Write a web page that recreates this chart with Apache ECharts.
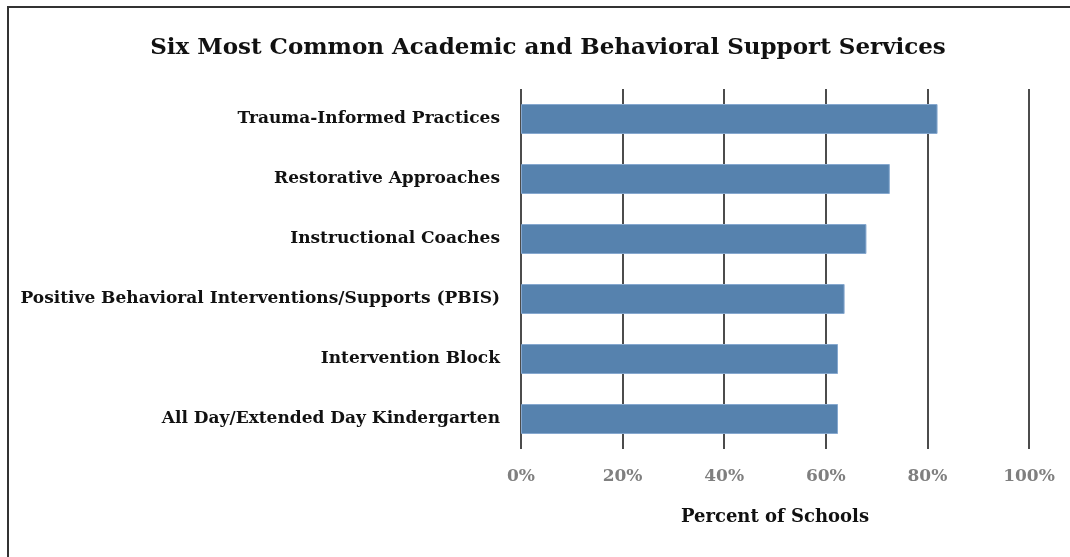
<!DOCTYPE html>
<html>
<head>
    <meta charset="utf-8">
    <title>Six Most Common Academic and Behavioral Support Services</title>
    <script src="https://cdn.jsdelivr.net/npm/echarts@6/dist/echarts.min.js"></script>
    <style>
        html, body { margin: 0; padding: 0; background: #fff; }
        #chart1 { width: 1070px; height: 557px; }
    </style>
</head>
<body>
<div id="chart1"></div>
<script type="text/javascript">
    // 数据
    var services = [
        'Trauma-Informed Practices',
        'Restorative Approaches',
        'Instructional Coaches',
        'Positive Behavioral Interventions/Supports (PBIS)',
        'Intervention Block',
        'All Day/Extended Day Kindergarten'
    ];
    var percentSchools = [82, 72.6, 68, 63.7, 62.4, 62.4];
    var tickValues = [0, 20, 40, 60, 80, 100];

    var serif = "'DejaVu Serif', serif";

    var myChart = echarts.init(document.getElementById('chart1'));
    myChart.setOption({
        animation: false,
        textStyle: { fontFamily: serif },
        title: {
            text: 'Six Most Common Academic and Behavioral Support Services',
            left: 543,
            top: 32,
            textAlign: 'center',
            textStyle: { fontFamily: serif, fontSize: 23, fontWeight: 'bold', color: '#111' }
        },
        graphic: [{
            type: 'rect',
            shape: { x: 8, y: 7, width: 1100, height: 600 },
            style: { fill: 'none', stroke: '#333', lineWidth: 2 },
            silent: true
        }],
        grid: { left: 521, right: 41, top: 89, bottom: 108 },
        xAxis: {
            type: 'value',
            min: tickValues[0],
            max: tickValues[tickValues.length - 1],
            interval: 20,
            name: 'Percent of Schools',
            nameLocation: 'middle',
            nameGap: 59,
            nameTextStyle: { fontFamily: serif, fontSize: 18, fontWeight: 'bold', color: '#111' },
            axisLine: { show: false },
            axisTick: { show: false },
            axisLabel: {
                margin: 19,
                formatter: '{value}%',
                fontFamily: serif, fontSize: 17, fontWeight: 'bold', color: '#7f7f7f'
            },
            splitLine: { show: true, lineStyle: { color: '#111', width: 1.5 } }
        },
        yAxis: {
            type: 'category',
            data: services,
            inverse: true,
            axisLine: { show: false },
            axisTick: { show: false },
            axisLabel: {
                margin: 21,
                fontFamily: serif, fontSize: 17, fontWeight: 'bold', color: '#111'
            }
        },
        series: [{
            name: 'Percent of Schools',
            type: 'bar',
            data: percentSchools,
            barCategoryGap: '50%',
            itemStyle: { color: '#5682ae', borderColor: '#86a8cf', borderWidth: 1 }
        }]
    });
</script>
</body>
</html>
